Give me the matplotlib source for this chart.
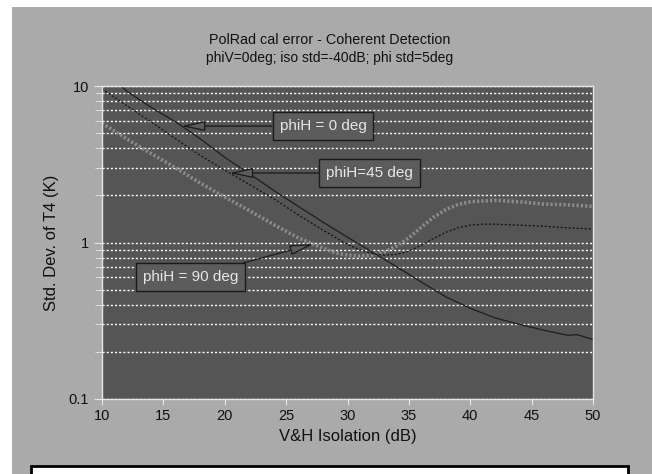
import numpy as np
import matplotlib
matplotlib.use('Agg')
import matplotlib.pyplot as plt
from matplotlib.patches import Rectangle

plt.rcParams['font.family'] = ['Liberation Sans', 'DejaVu Sans']

# values (x = V&H isolation in dB, y = std dev in K)
iso_0 = [10, 11, 12, 14, 16, 18, 20, 22, 24, 26, 28, 30, 32, 34, 36, 38, 40, 42, 44, 46, 48, 48.7, 50]
std_0 = [12.5, 11.0, 9.3, 7.3, 5.9, 4.6, 3.5, 2.75, 2.15, 1.7, 1.35, 1.08, 0.87, 0.7, 0.56, 0.45, 0.38, 0.33, 0.3, 0.275, 0.255, 0.258, 0.24]

iso_45 = [10, 12, 14, 16, 18, 20, 22, 24, 26, 28, 30, 31, 32, 33, 34, 35, 36, 37, 38, 39, 40, 41, 42, 43, 44, 46, 48, 50]
std_45 = [9.6, 7.5, 5.9, 4.6, 3.6, 2.9, 2.35, 1.9, 1.5, 1.2, 0.97, 0.9, 0.85, 0.83, 0.84, 0.88, 0.96, 1.06, 1.16, 1.24, 1.29, 1.31, 1.31, 1.3, 1.29, 1.27, 1.24, 1.22]

iso_90 = [10, 12, 14, 16, 18, 20, 22, 24, 26, 28, 29, 30, 31, 32, 33, 34, 35, 36, 37, 38, 39, 40, 42, 44, 46, 48, 50]
std_90 = [5.8, 4.6, 3.7, 3.0, 2.4, 1.95, 1.6, 1.3, 1.07, 0.92, 0.86, 0.83, 0.82, 0.83, 0.87, 0.95, 1.07, 1.25, 1.45, 1.62, 1.75, 1.82, 1.86, 1.82, 1.76, 1.74, 1.7]

x_ticks = [10, 15, 20, 25, 30, 35, 40, 45, 50]


def on_curve(xs, ys, x):
    # point on a curve, interpolated in log space
    return np.exp(np.interp(x, xs, np.log(ys)))


fig = plt.figure(figsize=(6.52, 4.74), dpi=100)
fig.patch.set_facecolor('white')

# gray panel behind everything + white caption box at the bottom
fig.patches.append(Rectangle((12 / 652, 0), 1, 1 - 7 / 474, transform=fig.transFigure,
                             fc='#aaaaaa', ec='none', zorder=-10))
fig.patches.append(Rectangle((31 / 652, -0.05), 597 / 652, 0.05 + 8 / 474, transform=fig.transFigure,
                             fc='white', ec='black', lw=2, zorder=-5))

ax = fig.add_axes([102 / 652, 1 - 399 / 474, 491 / 652, 313 / 474])
ax.set_facecolor('#555555')

ax.plot(iso_90, std_90, color='#8c8c8c', lw=2.6, ls=(0, (0.6, 0.6)))
ax.plot(iso_45, std_45, color='#111111', lw=0.9, ls=(0, (1.6, 1.6)))
ax.plot(iso_0, std_0, color='#1e1e1e', lw=0.9)

ax.set_yscale('log')
ax.set_xlim(10, 50)
ax.set_ylim(0.1, 10)
ax.set_xticks(x_ticks)
ax.set_yticks([0.1, 1, 10])
ax.set_yticklabels(['0.1', '1', '10'])

ax.grid(True, which='both', axis='y', color='white', ls=(0, (1.5, 1.5)), lw=1)
for s in ax.spines.values():
    s.set_color('#e6e6e6')
    s.set_linewidth(1)
ax.tick_params(axis='both', which='both', colors='#e6e6e6', labelcolor='#111111', labelsize=10.5)
ax.tick_params(axis='y', which='major', length=6)
ax.tick_params(axis='y', which='minor', length=5)
ax.tick_params(axis='x', length=4)

ax.set_xlabel('V&H Isolation (dB)', fontsize=12, color='#111111', labelpad=4)
ax.set_ylabel('Std. Dev. of T4 (K)', fontsize=12, color='#111111', labelpad=7)

fig.text(0.505, 1 - 40 / 474, 'PolRad cal error - Coherent Detection',
         ha='center', va='center', fontsize=10.4, color='#111111')
fig.text(0.505, 1 - 58 / 474, 'phiV=0deg; iso std=-40dB; phi std=5deg',
         ha='center', va='center', fontsize=10, color='#111111')

box = dict(boxstyle='square,pad=0.45', fc='#5c5c5c', ec='#1a1a1a', lw=1)
arr = dict(arrowstyle='-|>,head_length=1.3,head_width=0.28', fc='#5c5c5c', ec='#1a1a1a', lw=0.9,
           shrinkA=0, shrinkB=0)

y0 = on_curve(iso_0, std_0, 16.5)
ax.annotate('phiH = 0 deg', xy=(16.5, y0), xytext=(28.0, y0), ha='center', va='center',
            fontsize=11, color='#e6e6e6', bbox=box, arrowprops=arr)
y45 = on_curve(iso_45, std_45, 20.4)
ax.annotate('phiH=45 deg', xy=(20.4, y45), xytext=(31.8, y45), ha='center', va='center',
            fontsize=11, color='#e6e6e6', bbox=box, arrowprops=arr)
y90 = on_curve(iso_90, std_90, 27.2)
ax.annotate('phiH = 90 deg', xy=(27.2, y90), xytext=(17.2, 0.6), ha='center', va='center',
            fontsize=11, color='#e6e6e6', bbox=box, arrowprops=arr)

fig.savefig('out.png', dpi=100, facecolor=fig.get_facecolor())
